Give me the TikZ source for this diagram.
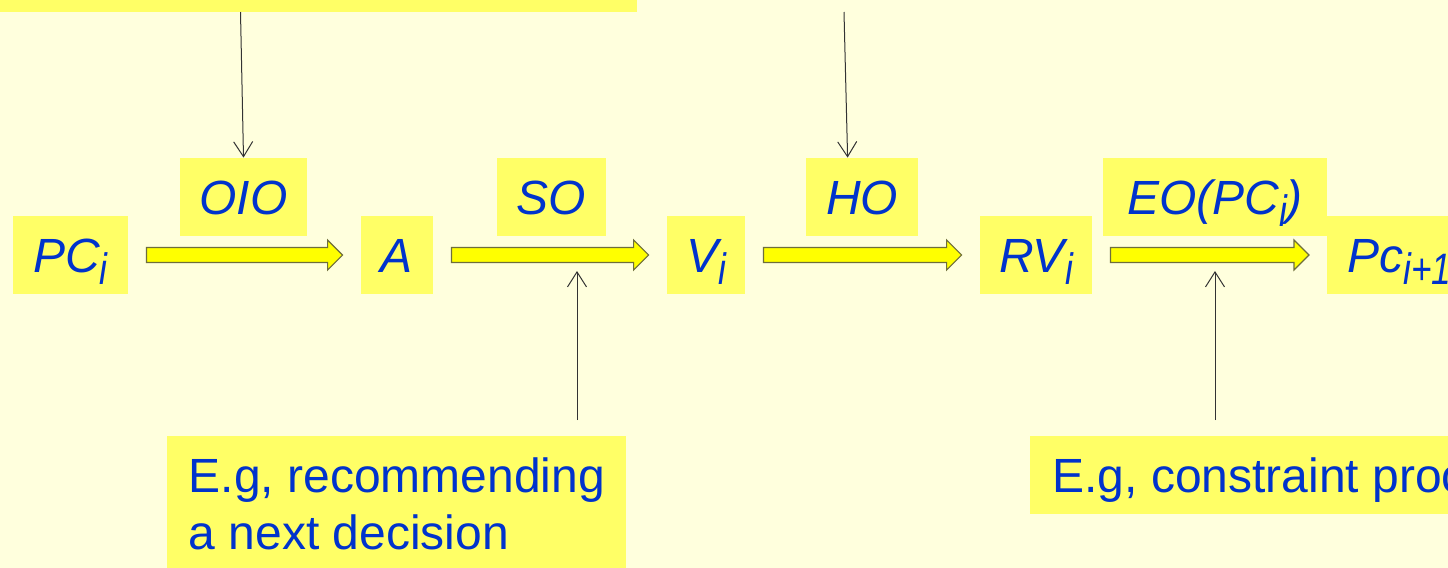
\documentclass[tikz,border=0pt]{standalone}
\usepackage{fontspec}
\usepackage{graphicx}
\setmainfont{Liberation Sans}
\usetikzlibrary{calc,arrows.meta}

\definecolor{bgyellow}{RGB}{255,255,221}
\definecolor{boxyellow}{RGB}{255,255,102}
\definecolor{arryellow}{RGB}{255,255,0}
\definecolor{arrline}{RGB}{110,110,60}
\definecolor{textblue}{RGB}{0,51,204}

\newcommand{\lowidx}[1]{\raisebox{-6pt}{\scalebox{0.8}[1]{\fontsize{22}{22}\selectfont #1}}}
\newcommand{\blockarrow}[2]{%
  \filldraw[blockarr] let \p1=(#1.east), \p2=(#2.west) in
    (\x1+9pt,\y1+3.75pt) -- (\x2-16.5pt,\y1+3.75pt) -- (\x2-16.5pt,\y1+7.5pt)
    -- (\x2-9pt,\y1) -- (\x2-16.5pt,\y1-7.5pt) -- (\x2-16.5pt,\y1-3.75pt)
    -- (\x1+9pt,\y1-3.75pt) -- cycle;}

\begin{document}
\begin{tikzpicture}[x=0.5pt, y=-0.5pt,
    font=\fontsize{24}{28.5}\selectfont,
    lbox/.style={fill=boxyellow, text=textblue, inner xsep=0pt, inner ysep=0pt,
      text height=28pt, text depth=11pt, font=\fontsize{24}{28.5}\selectfont\itshape},
    notebox/.style={fill=boxyellow, text=textblue, inner xsep=11pt},
    blockarr/.style={fill=arryellow, draw=arrline, line width=0.6pt},
    thinarr/.style={draw=black!80, line width=0.5pt,
      -{Straight Barb[length=7.5pt, width=9.5pt]}}]
  \useasboundingbox (0,0) rectangle (1448,568);
  \clip (0,0) rectangle (1448,568);
  \fill[bgyellow] (0,0) rectangle (1448,568);

  % chain of states
  \node[lbox, minimum width=57.5pt] (pc) at (70.5,255) {PC\lowidx{i}};
  \node[lbox, minimum width=36pt]   (a)  at (397,255)  {A};
  \node[lbox, minimum width=39pt]   (v)  at (706,255)  {V\lowidx{i}};
  \node[lbox, minimum width=56pt]   (rv) at (1036,255) {RV\lowidx{i}};
  \node[lbox, anchor=west, inner xsep=10pt] (pcnext) at (1327,255) {Pc\lowidx{i+1}};

  % operators
  \node[lbox, minimum width=63.5pt] (oio) at (243.5,197) {OIO};
  \node[lbox, minimum width=54.5pt] (so)  at (551.5,197) {SO};
  \node[lbox, minimum width=56pt]   (ho)  at (862,197)   {HO};
  \node[lbox, minimum width=112pt]  (eo)  at (1215,197)  {EO(PC\lowidx{i})};

  % notes
  \node[fill=boxyellow, anchor=south west, minimum width=323.5pt, minimum height=40pt,
    inner sep=0pt] (topnote) at (-10,12) {};
  \node[notebox, anchor=north west, align=left, inner xsep=10.5pt, inner ysep=10.8pt,
    minimum width=229.5pt] (ex1) at (167,436) {E.g, recommending\\a next decision};
  \node[notebox, anchor=north west, inner ysep=0pt, text height=28pt, text depth=11pt]
    (ex2) at (1030,436) {E.g, constraint proc};

  \coordinate (hotail) at (844,12);
  \coordinate (sotail) at (577,420);
  \coordinate (sohead) at (577,271);
  \coordinate (eotail) at (1215,420);
  \coordinate (eohead) at (1215,271);

  \blockarrow{pc}{a}
  \blockarrow{a}{v}
  \blockarrow{v}{rv}
  \blockarrow{rv}{pcnext}

  \draw[thinarr] ($(topnote.south west)+(250.5,0)$) -- (oio.north);
  \draw[thinarr] (hotail) -- ($(ho.north west)+(42,0)$);
  \draw[thinarr] (sotail) -- (sohead);
  \draw[thinarr] (eotail) -- (eohead);
\end{tikzpicture}
\end{document}
